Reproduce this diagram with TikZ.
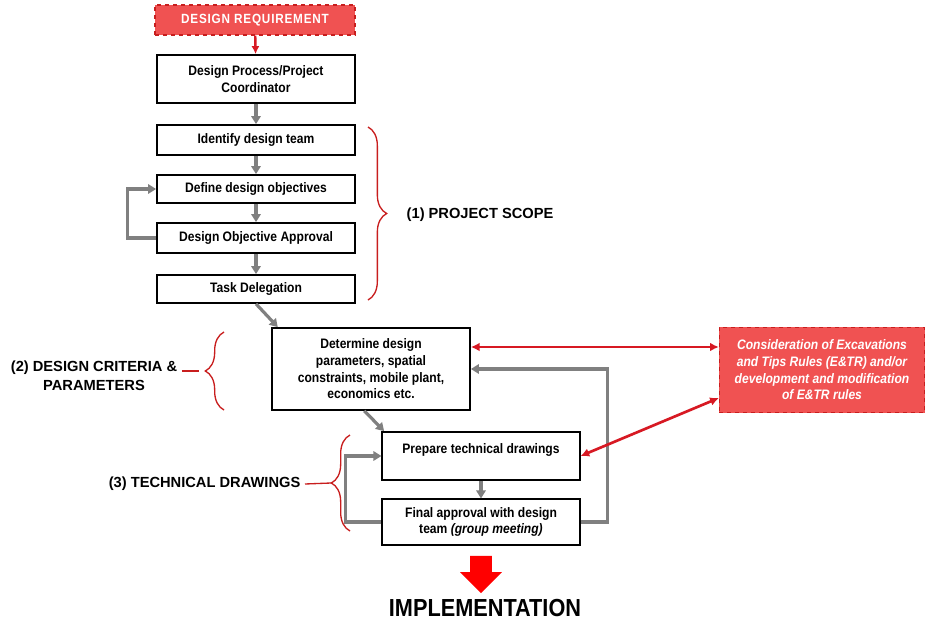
\documentclass[tikz,border=0pt]{standalone}
\usepackage{fontspec}
\setmainfont{Liberation Sans}
\newfontfamily\narrowfont{Liberation Sans}[FakeStretch=0.88]
\usepackage{tikz}
\usetikzlibrary{positioning}
\usetikzlibrary{arrows.meta}
\usetikzlibrary{decorations.pathreplacing}
\usetikzlibrary{shapes.arrows}

\definecolor{reqfill}{RGB}{240,82,82}
\definecolor{reqline}{RGB}{200,30,30}
\definecolor{linkred}{RGB}{215,25,35}
\definecolor{flowgray}{RGB}{128,128,128}

\begin{document}
\begin{tikzpicture}[x=0.75pt,y=-0.75pt,
  box/.style={draw, line width=1.3pt, fill=white, align=center, inner sep=1pt,
    minimum width=148.5pt, font=\narrowfont\bfseries\fontsize{10.3}{12.5}\selectfont},
  redbox/.style={draw=reqline, dashed, line width=0.8pt, fill=reqfill, text=white,
    align=center, inner sep=1pt},
  flow/.style={draw=flowgray, line width=2.4pt, -{Triangle[length=6pt,width=7pt]}},
  link/.style={draw=linkred, line width=2pt, {Latex[length=6.5pt,width=6.5pt]}-{Latex[length=6.5pt,width=6.5pt]}},
  bracket/.style={draw=reqline, line width=1pt, decorate, decoration={brace,amplitude=14pt}},
  stage/.style={font=\bfseries\fontsize{11}{14}\selectfont}]

  \useasboundingbox (0,0) rectangle (926,625);

  % main column
  \node[redbox, minimum width=150pt, minimum height=22.5pt,
    font=\narrowfont\bfseries\fontsize{10}{12}\selectfont\addfontfeature{LetterSpace=6}]
    (req) at (255,20) {DESIGN REQUIREMENT};
  \node[box, minimum height=36pt] (coord) at (256,79) {Design Process/Project\\Coordinator};
  \node[box, minimum height=22.5pt] (team) at (256,140) {Identify design team};
  \node[box, minimum height=21pt] (obj) at (256,189) {Define design objectives};
  \node[box, minimum height=22.5pt] (appr) at (256,238) {Design Objective Approval};
  \node[box, minimum height=21pt] (task) at (256,289) {Task Delegation};

  \node[box, minimum height=61.5pt] (param) at (371,369)
    {Determine design\\parameters, spatial\\constraints, mobile plant,\\economics etc.};
  \node[redbox, minimum width=154pt, minimum height=64pt,
    font=\narrowfont\bfseries\itshape\fontsize{10.3}{12.5}\selectfont] (rules) at (822,370)
    {Consideration of Excavations\\and Tips Rules (E\&TR) and/or\\development and modification\\of E\&TR rules};

  \node[box, minimum width=148pt, minimum height=36pt] (prep) at (481,456)
    {Prepare technical drawings\\[-2pt]\mbox{}};
  \node[box, minimum width=148pt, minimum height=34pt] (final) at (481,522)
    {Final approval with design\\team \textit{(group meeting)}};

  \node[single arrow, shape border rotate=270, fill=red, minimum height=28pt,
    minimum width=31pt, single arrow head extend=7.5pt, inner sep=8pt] (go) at (481,569) {};
  \node[font=\narrowfont\bfseries\fontsize{18.5}{20}\selectfont] (impl) at (485,608) {IMPLEMENTATION};

  % stage labels
  \node[stage, anchor=west] (scope) at (402,215) {(1) PROJECT SCOPE};
  \node[stage, align=center] (crit) at (94,376) {(2) DESIGN CRITERIA \&\\PARAMETERS};
  \node[stage, anchor=east] (tech) at (305,484) {(3) TECHNICAL DRAWINGS};

  \draw[bracket] (368,127) -- (368,300);
  \draw[bracket] (224,410) -- (224,332);
  \draw[bracket] (350,531) -- (350,435);
  \draw[draw=reqline, line width=1pt] (tech.east) -- (331,483);
  \draw[draw=reqline, line width=1pt] (crit.east |- 0,371) -- (199,371);

  % connectors
  \draw[draw=linkred, line width=1.8pt, -{Latex[length=6pt,width=6pt]}] (req) -- (coord);
  \draw[flow] (coord) -- (team);
  \draw[flow] (team) -- (obj);
  \draw[flow] (obj) -- (appr);
  \draw[flow] (appr) -- (task);
  \draw[flow] (appr.west) -- ++(-29,0) |- (obj.west);
  \draw[flow] (task.south) -- ([xshift=5pt]param.north west);
  \draw[flow] ([xshift=-5pt]param.south) -- ([xshift=2pt]prep.north west);
  \draw[flow] (prep) -- (final);
  \draw[flow] (final.west) -- ++(-36,0) |- (prep.west);
  \draw[flow] (final.east) -- ++(27,0) |- (param.east);

  \draw[link] ([yshift=16.5pt]param.east) -- ([yshift=16.5pt]param.east -| rules.west);
  \draw[link] (prep.east) -- ([yshift=-21pt]rules.west);
\end{tikzpicture}
\end{document}
